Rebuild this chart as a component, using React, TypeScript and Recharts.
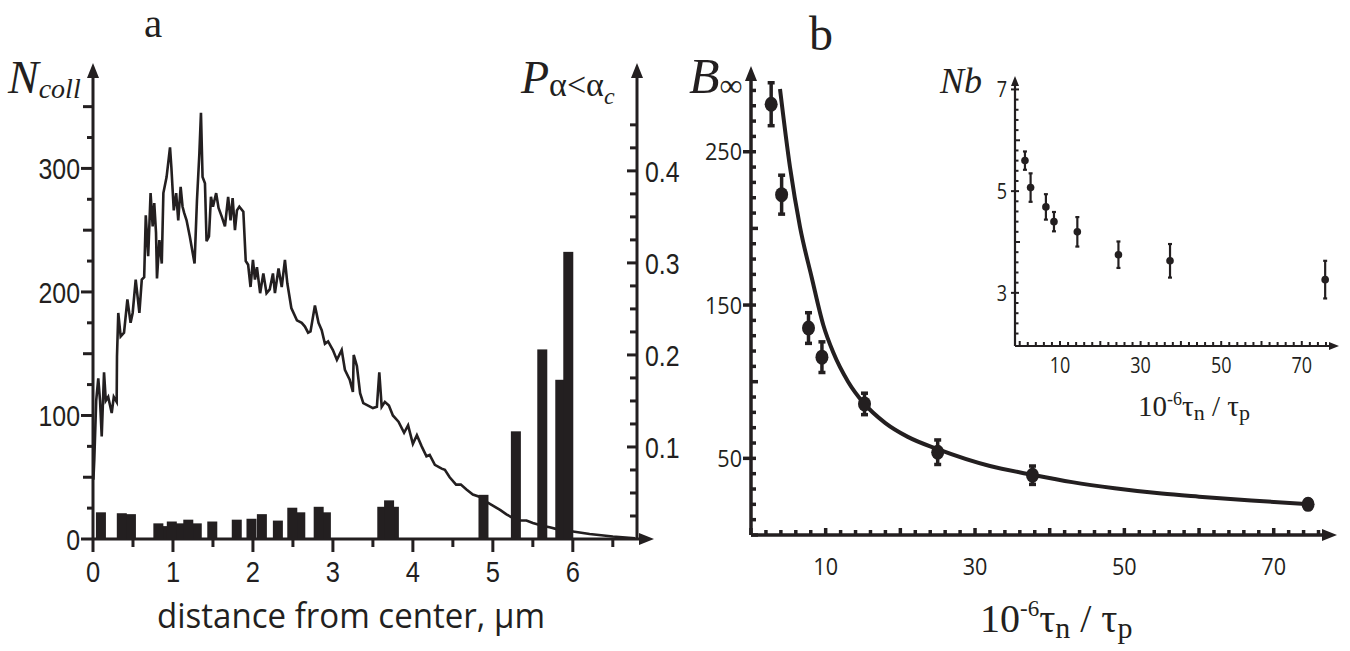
import React from 'react';
import { ComposedChart, Line, Bar, Scatter, XAxis, YAxis, ErrorBar } from 'recharts';

const INK = '#231f20';

// panel a: collision count vs distance from center (line, left axis)
const collX = [
  0.005, 0.016, 0.04, 0.066, 0.088, 0.109, 0.138, 0.16, 0.19, 0.234,
  0.26, 0.296, 0.3, 0.316, 0.346, 0.388, 0.43, 0.47, 0.496, 0.534,
  0.58, 0.61, 0.64, 0.66, 0.69, 0.72, 0.746, 0.766, 0.788, 0.8,
  0.83, 0.86, 0.88, 0.92, 0.963, 0.98, 1.01, 1.04, 1.066, 1.096,
  1.12, 1.14, 1.17, 1.21, 1.27, 1.3, 1.33, 1.35, 1.37, 1.4,
  1.42, 1.45, 1.475, 1.5, 1.54, 1.57, 1.61, 1.65, 1.69, 1.72,
  1.746, 1.775, 1.8, 1.83, 1.88, 1.91, 1.94, 1.97, 2.0, 2.025,
  2.05, 2.09, 2.13, 2.17, 2.21, 2.25, 2.275, 2.32, 2.36, 2.4,
  2.43, 2.48, 2.55, 2.61, 2.65, 2.69, 2.72, 2.775, 2.82, 2.86,
  2.9, 2.94, 3.0, 3.05, 3.11, 3.15, 3.21, 3.25, 3.26, 3.3,
  3.34, 3.38, 3.44, 3.5, 3.55, 3.58, 3.61, 3.65, 3.7, 3.75,
  3.82, 3.89, 3.94, 4.0, 4.05, 4.11, 4.17, 4.21, 4.275, 4.36,
  4.4, 4.46, 4.54, 4.6, 4.67, 4.75, 4.84, 4.92, 5.0, 5.09,
  5.17, 5.25, 5.34, 5.42, 5.5, 5.63, 5.71, 5.8, 5.96, 6.21,
  6.5, 6.78,
];
const collN = [
  48, 64, 112, 130, 112, 83, 135, 112, 115, 102,
  115, 111, 148, 183, 164, 167, 194, 175, 183, 210,
  183, 210, 212, 262, 229, 280, 253, 272, 248, 211,
  242, 223, 280, 293, 317, 301, 266, 280, 258, 285,
  269, 264, 258, 245, 223, 274, 312, 345, 293, 288,
  241, 245, 277, 269, 280, 268, 261, 253, 277, 258,
  276, 250, 266, 269, 265, 225, 222, 204, 226, 210,
  220, 199, 215, 199, 202, 215, 199, 219, 204, 226,
  207, 187, 177, 175, 172, 167, 168, 189, 175, 169,
  158, 160, 153, 145, 153, 137, 129, 119, 149, 140,
  118, 110, 108, 106, 107, 135, 107, 111, 108, 100,
  95, 86, 92, 77, 84, 75, 67, 68, 60, 57,
  56, 50, 44, 44, 40, 36, 34, 30, 27, 23.5,
  20, 17, 15, 15, 13, 10.5, 9.5, 8, 6.5, 4,
  2, 0.6,
];

// panel a: probability per bin (bars, right axis)
const binX = [0.098, 0.359, 0.473, 0.816, 0.9, 0.984, 1.088, 1.19, 1.296, 1.49, 1.796, 1.98, 2.11,
  2.31, 2.49, 2.59, 2.82, 2.91, 3.615, 3.7, 3.76, 4.88, 5.285, 5.615, 5.84, 5.94];
const binP = [0.029, 0.028, 0.027, 0.017, 0.014, 0.019, 0.017, 0.021, 0.017, 0.019, 0.021, 0.022, 0.027,
  0.02, 0.034, 0.029, 0.035, 0.029, 0.035, 0.042, 0.035, 0.048, 0.117, 0.206, 0.173, 0.312];

// panel b: B_inf vs 10^-6 tau_n/tau_p
const bX = [2.7, 4.1, 7.7, 9.5, 15.2, 25, 37.7, 74.6];
const bVal = [281, 222, 135, 116, 85.5, 54, 39, 20];
const bErr = [14, 12.7, 10, 10, 7, 8, 6, 3];

// panel b: fitted curve
const fitX = [3.88, 5.22, 6.56, 8.13, 9.68, 11.02, 13, 15.1, 18, 21, 25, 32, 37.5, 43, 48.7, 55, 60, 67, 74.8];
const fitB = [291, 240, 201, 168, 137, 119, 100, 86, 73, 64, 56, 45, 39.5, 34.5, 30.5, 27, 25, 22.5, 20];

// inset: Nb
const nbX = [1.3, 2.7, 6.5, 8.5, 14.3, 24.5, 37.3, 75.8];
const nbVal = [5.6, 5.07, 4.69, 4.4, 4.2, 3.75, 3.63, 3.26];
const nbErr = [0.18, 0.28, 0.25, 0.19, 0.29, 0.26, 0.33, 0.37];

// labelled ticks
const aXLabels = [0, 1, 2, 3, 4, 5, 6];
const aNLabels = [0, 100, 200, 300];
const aPLabels = [0.1, 0.2, 0.3, 0.4];
const bXLabels = [10, 30, 50, 70];
const bYLabels = [50, 150, 250];
const inXLabels = [10, 30, 50, 70];
const inYLabels = [3, 5, 7];

const steps = (a: number, b: number, s: number) => {
  const out: number[] = [];
  for (let v = a; v <= b + 1e-9; v += s) out.push(Math.round(v * 1000) / 1000);
  return out;
};
const has = (arr: number[], v: number) => arr.some((a) => Math.abs(a - v) < 1e-6);
const near = (v: number, m: number) => Math.abs(v / m - Math.round(v / m)) < 1e-6;

const lineRows = collX.map((x, i) => ({ x, n: collN[i] }));
// taller bars drawn last so overlapping neighbours keep their notches
const barRows = binX.map((x, i) => ({ x, p: binP[i] })).sort((a, b) => a.p - b.p);
const bRows = bX.map((x, i) => ({ x, y: bVal[i], e: bErr[i] }));
const fitRows = fitX.map((x, i) => ({ x, y: fitB[i] }));
const nbRows = nbX.map((x, i) => ({ x, y: nbVal[i], e: nbErr[i] }));

type TickSpec = {
  side: 'left' | 'right' | 'bottom';
  labels: number[];
  len: (v: number) => [number, number];
  off: number;
  font: string;
  size: number;
  sx: number;
  sw: number;
};

const makeTick = (t: TickSpec) => (p: any) => {
  const { x, y } = p;
  const v = p.payload.value;
  const [out, inn] = t.len(v);
  const lab = has(t.labels, v) ? String(v) : null;
  const txt = { fill: INK, fontFamily: t.font, fontSize: t.size };
  if (t.side === 'bottom') {
    return (
      <g>
        <line x1={x} x2={x} y1={y - inn} y2={y + out} stroke={INK} strokeWidth={t.sw} />
        {lab && (
          <text {...txt} transform={`translate(${x},${y + t.off}) scale(${t.sx},1)`} textAnchor="middle">
            {lab}
          </text>
        )}
      </g>
    );
  }
  const left = t.side === 'left';
  return (
    <g>
      <line
        x1={left ? x - out : x - inn}
        x2={left ? x + inn : x + out}
        y1={y}
        y2={y}
        stroke={INK}
        strokeWidth={t.sw}
      />
      {lab && (
        <text
          {...txt}
          transform={`translate(${left ? x - t.off : x + t.off},${y}) scale(${t.sx},1)`}
          textAnchor={left ? 'end' : 'start'}
          dy="0.36em"
        >
          {lab}
        </text>
      )}
    </g>
  );
};

const aXTick = makeTick({
  side: 'bottom', labels: aXLabels, len: (v) => (near(v, 1) ? [13, 0] : [8, 0]),
  off: 43, font: 'Liberation Sans', size: 30, sx: 0.85, sw: 3,
});
const aNTick = makeTick({
  side: 'left', labels: aNLabels,
  len: (v) => (near(v, 100) ? [12, 0] : near(v, 50) ? [10, 0] : [6, 0]),
  off: 13, font: 'Liberation Sans', size: 30, sx: 0.83, sw: 3,
});
const aPTick = makeTick({
  side: 'right', labels: aPLabels, len: (v) => (near(v, 0.1) ? [0, 10] : [0, 7]),
  off: 8, font: 'Liberation Sans', size: 30, sx: 0.83, sw: 3,
});
const bXTick = makeTick({
  side: 'bottom', labels: bXLabels, len: (v) => (near(v, 10) ? [0, 7] : [0, 5]),
  off: 40, font: 'Open Sans', size: 24, sx: 0.9, sw: 3.5,
});
const bYTick = makeTick({
  side: 'left', labels: bYLabels,
  len: (v) => (has(bYLabels, v) ? [8, 5] : near(v, 100) ? [0, 7] : [0, 5]),
  off: 9, font: 'Open Sans', size: 24, sx: 0.9, sw: 3.5,
});
const inXTick = makeTick({
  side: 'bottom', labels: inXLabels, len: (v) => (near(v, 10) ? [0, 5] : [0, 4]),
  off: 27, font: 'Open Sans', size: 22, sx: 0.82, sw: 2,
});
const inYTick = makeTick({
  side: 'left', labels: inYLabels,
  len: (v) => (has(inYLabels, v) ? [4, 4] : near(v, 1) ? [0, 5] : [0, 3.5]),
  off: 8, font: 'Open Sans', size: 22, sx: 0.82, sw: 2,
});

const layer: React.CSSProperties = { position: 'absolute', left: 0, top: 0 };
const serif = 'Liberation Serif';

export default function App() {
  return (
    <div style={{ position: 'absolute', left: 0, top: 0, width: 1350, height: 651, background: '#fff', overflow: 'hidden' }}>
      <svg width={0} height={0} style={{ position: 'absolute' }}>
        <defs>
          <marker id="arrA" markerUnits="userSpaceOnUse" markerWidth={15} markerHeight={12} refX={1} refY={6}
            viewBox="0 0 15 12" orient="auto-start-reverse">
            <path d="M0,0 L15,6 L0,12 Z" fill={INK} />
          </marker>
          <marker id="arrB" markerUnits="userSpaceOnUse" markerWidth={15} markerHeight={12} refX={1} refY={6}
            viewBox="0 0 15 12" orient="auto-start-reverse">
            <path d="M0,0 L15,6 L0,12 Z" fill={INK} />
          </marker>
          <marker id="arrI" markerUnits="userSpaceOnUse" markerWidth={10} markerHeight={8} refX={1} refY={4}
            viewBox="0 0 10 8" orient="auto-start-reverse">
            <path d="M0,0 L10,4 L0,8 Z" fill={INK} />
          </marker>
        </defs>
      </svg>

      {/* panel a: line with left axis */}
      <div style={layer}>
        <ComposedChart width={1350} height={651} data={lineRows} margin={{ top: 77, right: 710, bottom: 62, left: 13 }}>
          <XAxis type="number" dataKey="x" domain={[0, 6.84]} allowDataOverflow ticks={steps(0, 6.5, 0.5)}
            interval={0} tickSize={0} tickMargin={0} tickLine={false} tick={aXTick} height={50}
            axisLine={{ stroke: INK, strokeWidth: 3, markerEnd: 'url(#arrA)' }} />
          <YAxis type="number" domain={[0, 374]} allowDataOverflow ticks={steps(0, 350, 25)}
            interval={0} tickSize={0} tickMargin={0} tickLine={false} tick={aNTick} width={80}
            axisLine={{ stroke: INK, strokeWidth: 3, markerStart: 'url(#arrA)' }} />
          <Line type="linear" dataKey="n" stroke={INK} strokeWidth={2.6} dot={false} isAnimationActive={false} />
        </ComposedChart>
      </div>

      {/* panel a: bars with right axis */}
      <div style={layer}>
        <ComposedChart width={1350} height={651} data={barRows} margin={{ top: 77, right: 643, bottom: 112, left: 93 }}>
          <XAxis type="number" dataKey="x" domain={[0, 6.8]} allowDataOverflow hide />
          <YAxis orientation="right" type="number" domain={[0, 0.502]} allowDataOverflow ticks={steps(0.025, 0.45, 0.025)}
            interval={0} tickSize={0} tickMargin={0} tickLine={false} tick={aPTick} width={70}
            axisLine={{ stroke: INK, strokeWidth: 3, markerStart: 'url(#arrA)' }} />
          <Bar dataKey="p" fill={INK} isAnimationActive={false}
            shape={(p: any) => <rect x={p.x + p.width / 2 - 5} y={p.y} width={10} height={p.height} fill={INK} />} />
        </ComposedChart>
      </div>

      {/* panel b */}
      <div style={layer}>
        <ComposedChart width={1350} height={651} margin={{ top: 80, right: 27, bottom: 66, left: 691 }}>
          <XAxis type="number" dataKey="x" domain={[0, 76.6]} allowDataOverflow ticks={steps(0, 76, 2)}
            interval={0} tickSize={0} tickMargin={0} tickLine={false} tick={bXTick} height={50}
            axisLine={{ stroke: INK, strokeWidth: 3.5, markerEnd: 'url(#arrB)' }} />
          <YAxis type="number" dataKey="y" domain={[0, 296.8]} allowDataOverflow ticks={steps(0, 290, 10)}
            interval={0} tickSize={0} tickMargin={0} tickLine={false} tick={bYTick} width={60}
            axisLine={{ stroke: INK, strokeWidth: 3.5, markerStart: 'url(#arrB)' }} />
          <Line data={fitRows} type="monotone" dataKey="y" stroke={INK} strokeWidth={4} dot={false} isAnimationActive={false} />
          <Scatter data={bRows} fill={INK} isAnimationActive={false}
            shape={(p: any) => <ellipse cx={p.cx} cy={p.cy} rx={6.5} ry={7.5} fill={INK} />}>
            <ErrorBar dataKey="e" direction="y" width={3.5} strokeWidth={3.5} stroke={INK} />
          </Scatter>
        </ComposedChart>
      </div>

      {/* inset */}
      <div style={layer}>
        <ComposedChart width={1350} height={651} margin={{ top: 85, right: 20, bottom: 270, left: 975 }}>
          <XAxis type="number" dataKey="x" domain={[-1.17, 77]} allowDataOverflow ticks={steps(0, 76, 2)}
            interval={0} tickSize={0} tickMargin={0} tickLine={false} tick={inXTick} height={35}
            axisLine={{ stroke: INK, strokeWidth: 2.2, markerEnd: 'url(#arrI)' }} />
          <YAxis type="number" dataKey="y" domain={[1.955, 7.087]} allowDataOverflow ticks={steps(2.2, 7, 0.2)}
            interval={0} tickSize={0} tickMargin={0} tickLine={false} tick={inYTick} width={40}
            axisLine={{ stroke: INK, strokeWidth: 2.2, markerStart: 'url(#arrI)' }} />
          <Scatter data={nbRows} fill={INK} isAnimationActive={false}
            shape={(p: any) => <circle cx={p.cx} cy={p.cy} r={3.8} fill={INK} />}>
            <ErrorBar dataKey="e" direction="y" width={2} strokeWidth={2.2} stroke={INK} />
          </Scatter>
        </ComposedChart>
      </div>

      {/* titles and axis names */}
      <svg width={1350} height={651} style={layer}>
        <g fill={INK}>
          <text x={153} y={37} fontFamily={serif} fontSize={41} textAnchor="middle">a</text>
          <text x={821} y={50} fontFamily={serif} fontSize={48} textAnchor="middle">b</text>
          <text x={8} y={93} fontFamily={serif} fontStyle="italic" fontSize={46}>
            N<tspan fontSize={28} dy={5}>coll</tspan>
          </text>
          <text x={521} y={93} fontFamily={serif} fontSize={46}>
            <tspan fontStyle="italic">P</tspan>
            <tspan fontSize={34} dy={3}>α&lt;α</tspan>
            <tspan fontSize={24} fontStyle="italic" dy={8}>c</tspan>
          </text>
          <text x={689} y={93} fontFamily={serif} fontSize={50}>
            <tspan fontStyle="italic">B</tspan>
            <tspan fontSize={32} dy={3}>∞</tspan>
          </text>
          <text x={940} y={93} fontFamily={serif} fontStyle="italic" fontSize={36}>Nb</text>
          <text x={157} y={628} fontFamily="Open Sans" fontSize={34} textLength={388} lengthAdjust="spacingAndGlyphs">
            distance from center, µm
          </text>
          <text x={980} y={632} fontFamily={serif} fontSize={40}>
            10<tspan fontSize={23} dy={-16}>-6</tspan>
            <tspan dy={16}>τ</tspan>
            <tspan fontSize={30} dy={6}>n</tspan>
            <tspan dy={-6}> / τ</tspan>
            <tspan fontSize={30} dy={6}>p</tspan>
          </text>
          <text x={1138} y={416} fontFamily={serif} fontSize={29}>
            10<tspan fontSize={18} dy={-11}>-6</tspan>
            <tspan dy={11}>τ</tspan>
            <tspan fontSize={22} dy={4}>n</tspan>
            <tspan dy={-4}> / τ</tspan>
            <tspan fontSize={22} dy={4}>p</tspan>
          </text>
        </g>
      </svg>
    </div>
  );
}
